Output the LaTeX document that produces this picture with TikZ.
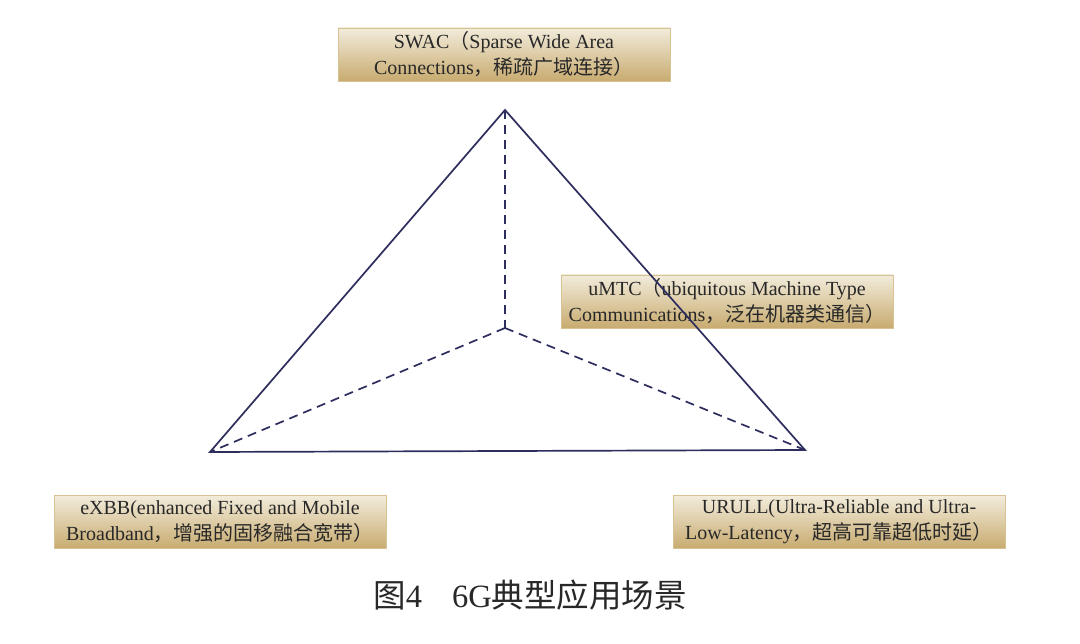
\documentclass[tikz,border=0pt]{standalone}
\usepackage{fontspec}
\setmainfont{Liberation Serif}
\newfontfamily\cjk{Noto Sans CJK SC}
\definecolor{edge}{RGB}{46,46,94}
\definecolor{boxtop}{RGB}{242,236,219}
\definecolor{boxbot}{RGB}{200,171,112}
\definecolor{boxline}{RGB}{214,194,146}
\definecolor{txt}{RGB}{40,40,40}
\tikzset{
  labelbox/.style={rectangle, draw=boxline, line width=0.8pt, top color=boxtop, bottom color=boxbot,
    minimum width=332pt, minimum height=53pt, inner sep=0pt, align=center,
    font=\fontsize{20}{26}\selectfont, text=txt},
  solidedge/.style={draw=edge, line width=1.7pt, line join=miter},
  dashededge/.style={draw=edge, line width=1.7pt, dash pattern=on 9pt off 6pt},
}
\begin{document}
\begin{tikzpicture}[x=1pt,y=-1pt]
\useasboundingbox[fill=white] (0,0) rectangle (1080,644);
\node[labelbox] (swac) at (504,54.5) {SWAC{\cjk （}Sparse Wide Area\\Connections{\cjk ，稀疏广域连接）}};
\node[labelbox] (umtc) at (727,301.5) {uMTC{\cjk （}ubiquitous Machine Type\\Communications{\cjk ，泛在机器类通信）}};
\node[labelbox] (exbb) at (220,522) {eXBB(enhanced Fixed and Mobile\\Broadband{\cjk ，增强的固移融合宽带）}};
\node[labelbox] (urull) at (839,522) {URULL(Ultra-Reliable and Ultra-\\Low-Latency{\cjk ，超高可靠超低时延）}};
\coordinate (T) at (505,110);
\coordinate (L) at (210,452);
\coordinate (R) at (805,450);
\coordinate (C) at (505,328);
\draw[solidedge] (T) -- (L) -- (R) -- cycle;
\draw[dashededge] (T) -- (C);
\draw[dashededge] (C) -- (L);
\draw[dashededge] (C) -- (R);
\node[font=\fontsize{32.5}{36}\selectfont, text=txt] (cap) at (530,595) {{\cjk 图}4\hspace{30pt}6G{\cjk 典型应用场景}};
\end{tikzpicture}
\end{document}
